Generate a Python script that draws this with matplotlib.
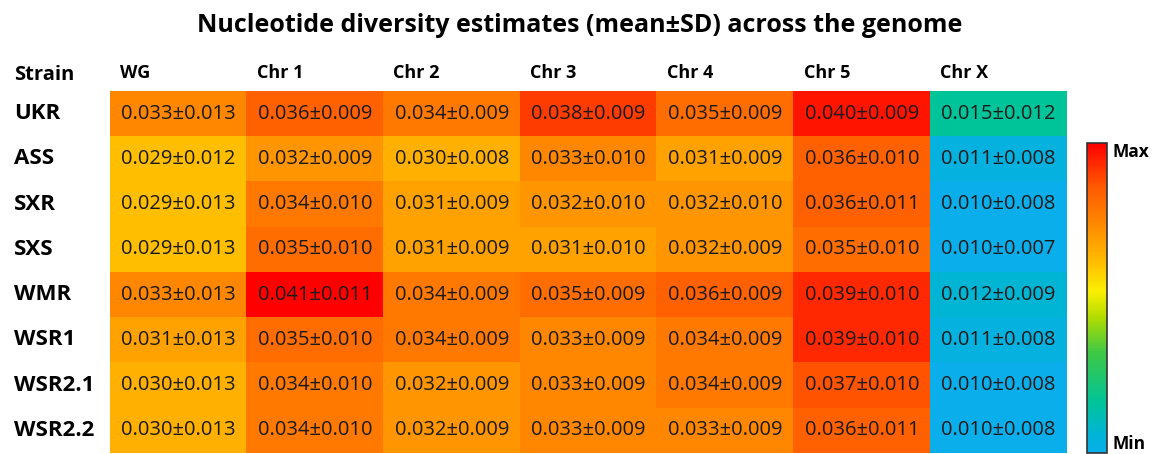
#!/usr/bin/env python3
import matplotlib.pyplot as plt
import numpy as np
from matplotlib.colors import LinearSegmentedColormap, Normalize
from matplotlib.colorbar import ColorbarBase

plt.rcParams["font.family"] = ["Open Sans", "DejaVu Sans"]

strains = ["UKR", "ASS", "SXR", "SXS", "WMR", "WSR1", "WSR2.1", "WSR2.2"]
regions = ["WG", "Chr 1", "Chr 2", "Chr 3", "Chr 4", "Chr 5", "Chr X"]

means = np.array([
    [0.033, 0.036, 0.034, 0.038, 0.035, 0.040, 0.015],
    [0.029, 0.032, 0.030, 0.033, 0.031, 0.036, 0.011],
    [0.029, 0.034, 0.031, 0.032, 0.032, 0.036, 0.010],
    [0.029, 0.035, 0.031, 0.031, 0.032, 0.035, 0.010],
    [0.033, 0.041, 0.034, 0.035, 0.036, 0.039, 0.012],
    [0.031, 0.035, 0.034, 0.033, 0.034, 0.039, 0.011],
    [0.030, 0.034, 0.032, 0.033, 0.034, 0.037, 0.010],
    [0.030, 0.034, 0.032, 0.033, 0.033, 0.036, 0.010],
])
sds = np.array([
    [0.013, 0.009, 0.009, 0.009, 0.009, 0.009, 0.012],
    [0.012, 0.009, 0.008, 0.010, 0.009, 0.010, 0.008],
    [0.013, 0.010, 0.009, 0.010, 0.010, 0.011, 0.008],
    [0.013, 0.010, 0.009, 0.010, 0.009, 0.010, 0.007],
    [0.013, 0.011, 0.009, 0.009, 0.009, 0.010, 0.009],
    [0.013, 0.010, 0.009, 0.009, 0.009, 0.010, 0.008],
    [0.013, 0.010, 0.009, 0.009, 0.009, 0.010, 0.008],
    [0.013, 0.010, 0.009, 0.009, 0.009, 0.011, 0.008],
])

# Excel-like colour scale, min blue -> max red
cmap = LinearSegmentedColormap.from_list("scale", [
    (0.00, "#0AAEEA"),
    (0.06, "#00B4D6"),
    (0.16, "#00C49A"),
    (0.32, "#3CC846"),
    (0.44, "#B4DC00"),
    (0.52, "#FAF000"),
    (0.61, "#FFC000"),
    (0.75, "#FF8400"),
    (0.86, "#FF5A00"),
    (1.00, "#FF0000"),
])
norm = Normalize(vmin=means.min(), vmax=means.max())

W, H = 1158, 454
fig = plt.figure(figsize=(W / 100, H / 100), dpi=100)
fig.patch.set_facecolor("white")


def fx(px):
    return px / W


def fy(py):
    return 1 - py / H


left, right, top, bottom = 110, 1067, 91, 453
ax = fig.add_axes([fx(left), fy(bottom), fx(right - left), (bottom - top) / H])
ax.imshow(means, cmap=cmap, norm=norm, aspect="auto", interpolation="nearest")
for i in range(len(strains)):
    for j in range(len(regions)):
        ax.text(j, i, f"{means[i, j]:.3f}±{sds[i, j]:.3f}", ha="center", va="center",
                fontsize=14.5, color="#1a1a1a")
ax.set_xticks([])
ax.set_yticks([])
for sp in ax.spines.values():
    sp.set_visible(False)

col_w = (right - left) / len(regions)
row_h = (bottom - top) / len(strains)
for j, reg in enumerate(regions):
    fig.text(fx(left + j * col_w + 10), fy(73), reg, ha="left", va="center",
             fontsize=13, fontweight="bold")
fig.text(fx(14), fy(75), "Strain", ha="left", va="center", fontsize=14.5, fontweight="bold")
for i, s in enumerate(strains):
    fig.text(fx(14), fy(top + (i + 0.5) * row_h), s, ha="left", va="center",
             fontsize=16, fontweight="bold")

fig.text(fx(580), fy(25), "Nucleotide diversity estimates (mean±SD) across the genome",
         ha="center", va="center", fontsize=18, fontweight="bold")

cax = fig.add_axes([fx(1087), fy(453), fx(20), (453 - 143) / H])
cb = ColorbarBase(cax, cmap=cmap, norm=Normalize(0, 1), orientation="vertical")
cb.set_ticks([])
cb.outline.set_edgecolor("#333333")
cb.outline.set_linewidth(1.2)
fig.text(fx(1112), fy(152), "Max", ha="left", va="center", fontsize=12.5, fontweight="bold")
fig.text(fx(1112), fy(444), "Min", ha="left", va="center", fontsize=12.5, fontweight="bold")

fig.savefig("out.png", dpi=100, facecolor="white")
